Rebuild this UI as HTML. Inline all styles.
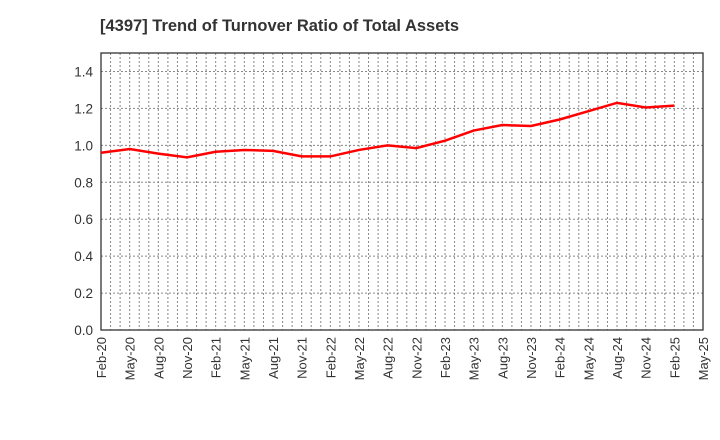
<!DOCTYPE html>
<html><head><meta charset="utf-8"><style>body{margin:0;background:#fff}svg{display:block;font-family:"Liberation Sans",sans-serif}</style></head>
<body>
<svg id="c" width="720" height="440">
<text x="100" y="31" font-size="16.5" font-weight="bold" fill="#333">[4397]  Trend of Turnover Ratio of Total Assets</text>
<g id="grid"></g>
<g id="axes"></g>
<polyline id="line" fill="none" stroke="#f00" stroke-width="2.5"/>
</svg>
<script>
const categories=["Feb-20","May-20","Aug-20","Nov-20","Feb-21","May-21","Aug-21","Nov-21","Feb-22","May-22","Aug-22","Nov-22","Feb-23","May-23","Aug-23","Nov-23","Feb-24","May-24","Aug-24","Nov-24","Feb-25","May-25"];
const values=[0.96,0.98,0.955,0.935,0.965,0.975,0.97,0.94,0.94,0.975,1.0,0.985,1.025,1.08,1.11,1.105,1.14,1.185,1.23,1.205,1.215];
const yTicks=[0,0.2,0.4,0.6,0.8,1.0,1.2,1.4];
const L=101,R=703,T=53,B=330,yMax=1.5;
const NS="http://www.w3.org/2000/svg";
const x=i=>L+(R-L)*i/(categories.length-1);
const y=v=>B-(B-T)*v/yMax;
const g=document.getElementById('grid'),a=document.getElementById('axes');
function mk(p,tag,at){const e=document.createElementNS(NS,tag);for(const k in at)e.setAttribute(k,at[k]);p.appendChild(e);return e;}
for(let m=1;m<(categories.length-1)*3;m++){const xx=L+(R-L)*m/((categories.length-1)*3);
const l=mk(g,'line',{x1:xx,x2:xx,y1:T,y2:B,stroke:'#888','stroke-dasharray':'2,2','stroke-width':1});

}
yTicks.forEach(v=>{const yy=y(v);
if(v>0){const l=mk(g,'line',{x1:L,x2:R,y1:yy,y2:yy,stroke:'#888','stroke-dasharray':'2,2','stroke-width':1});

}
const t=mk(a,'text',{x:L-8,y:yy+5,'text-anchor':'end','font-size':13.5,fill:'#333'});t.textContent=v.toFixed(1);

});
mk(a,'rect',{x:L,y:T,width:R-L,height:B-T,fill:'none',stroke:'#333','stroke-width':1.3});
categories.forEach((c,i)=>{const xx=x(i);
const t=mk(a,'text',{transform:`translate(${xx+5},${B+7}) rotate(-90)`,'text-anchor':'end','font-size':13,fill:'#333'});t.textContent=c;

});
document.getElementById('line').setAttribute('points',values.map((v,i)=>x(i)+','+y(v)).join(' '));
</script>
</body></html>
